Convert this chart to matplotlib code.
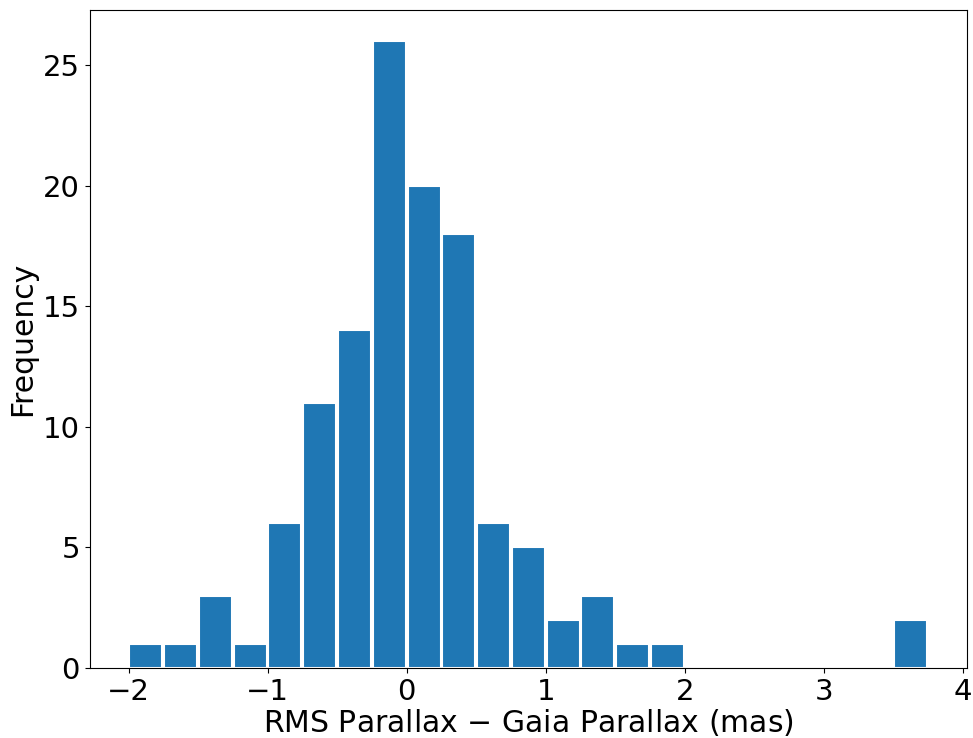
import matplotlib
matplotlib.use('Agg')
import matplotlib.pyplot as plt
import numpy as np

# histogram of parallax differences, 0.25 mas bins from -2 to 3.75
bin_edges = np.arange(-2.0, 3.76, 0.25)
counts = [1, 1, 3, 1, 6, 11, 14, 26, 20, 18, 6, 5, 2, 3, 1, 1,
          0, 0, 0, 0, 0, 0, 2]

fig = plt.figure(figsize=(9.73, 7.38), dpi=100)
ax = fig.add_axes([0.092, 0.095, 0.902, 0.892])
ax.hist(bin_edges[:-1], bins=bin_edges, weights=counts, color='#1f77b4',
        edgecolor='white', linewidth=1.5, rwidth=0.95)
ax.set_xlabel('RMS Parallax $-$ Gaia Parallax (mas)', fontsize=21.5, labelpad=1)
ax.set_ylabel('Frequency', fontsize=21.5)
ax.tick_params(labelsize=21)
ax.set_xticks([-2, -1, 0, 1, 2, 3, 4])
fig.savefig('out.png', dpi=100)
